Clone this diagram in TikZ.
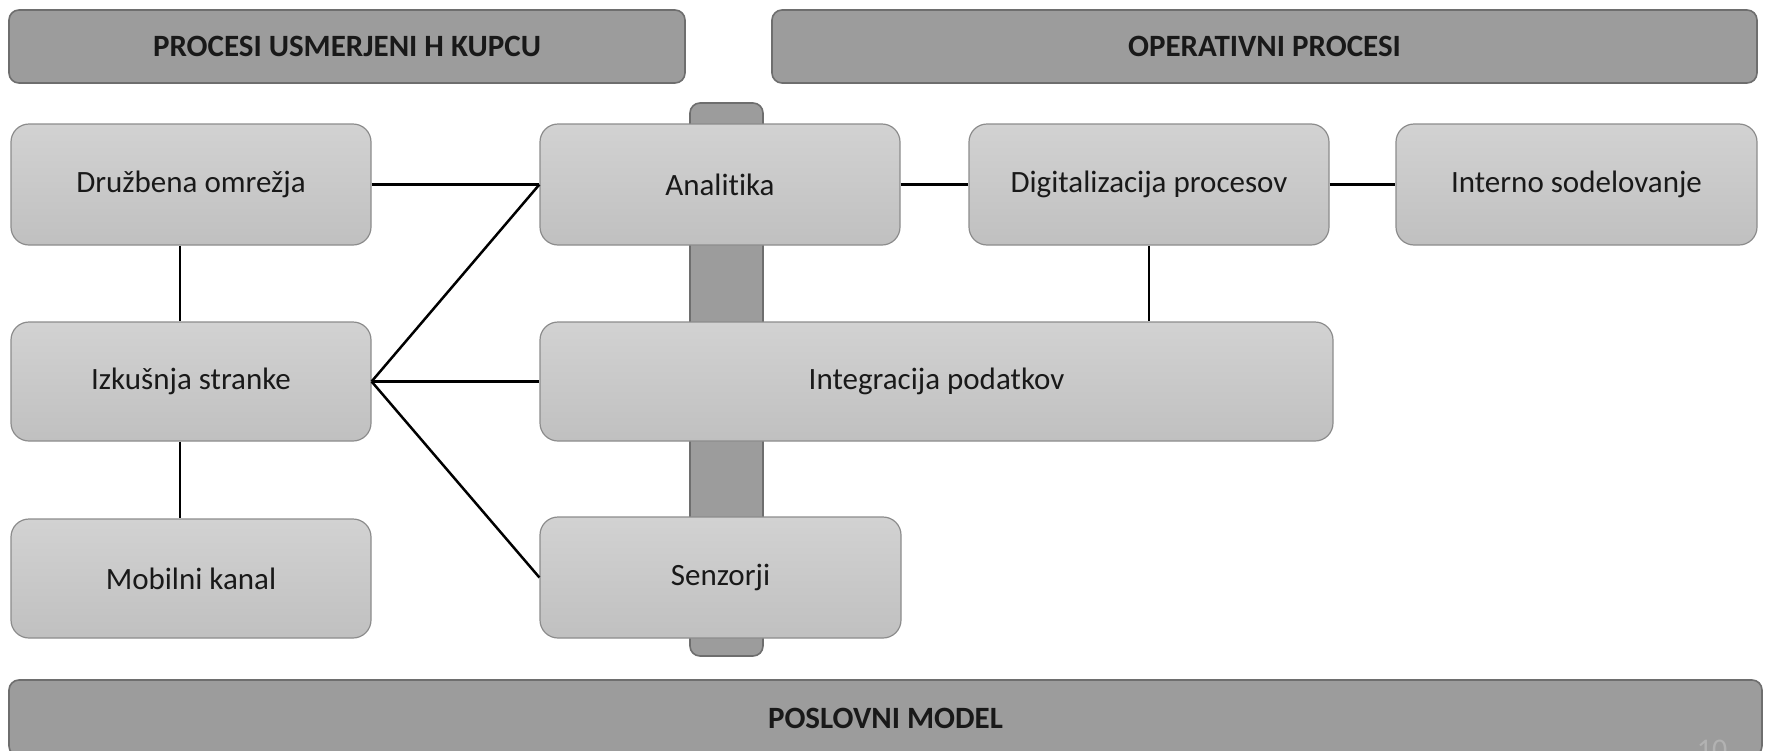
\documentclass[tikz,border=0pt]{standalone}
\usepackage{fontspec}
\setmainfont{Carlito}[Ligatures=NoCommon]
\definecolor{boxtop}{RGB}{210,210,210}
\definecolor{boxbot}{RGB}{192,192,192}
\definecolor{boxline}{RGB}{140,140,140}
\definecolor{barfill}{RGB}{156,156,156}
\definecolor{barline}{RGB}{110,110,110}
\definecolor{txt}{RGB}{25,25,25}
\definecolor{pagenum}{RGB}{178,178,178}
\tikzset{
  box/.style={draw=boxline, line width=1.2pt, rounded corners=18pt,
    top color=boxtop, bottom color=boxbot, minimum width=360pt,
    minimum height=120pt, inner sep=0pt, text=txt,
    font=\fontsize{31}{36}\selectfont},
  band/.style={draw=barline, line width=1.6pt, rounded corners=10pt,
    fill=barfill, inner sep=0pt, text=txt,
    font=\bfseries\fontsize{31}{36}\selectfont},
  link/.style={line width=2.5pt, black}
}
\begin{document}
\begin{tikzpicture}[x=1pt,y=-1pt]
\path[use as bounding box, clip] (0,0) rectangle (1765,750);

% frame bands
\node[band, minimum width=676pt, minimum height=73pt] (hleft) at (347,46.5) {PROCESI USMERJENI H KUPCU};
\node[band, minimum width=985pt, minimum height=73pt] (hright) at (1264.5,46.5) {OPERATIVNI PROCESI};
\node[band, minimum width=1753pt, minimum height=76pt] (hbottom) at (885.5,718) {POSLOVNI MODEL};
\node[band, minimum width=73pt, minimum height=553pt] (vbar) at (726.5,379.5) {};

% page number
\node[anchor=base, text=pagenum, font=\fontsize{30}{36}\selectfont, inner sep=0pt] (pg) at (1712,759) {10};

% process boxes
\node[box, minimum height=121pt] (dru) at (191,184.5) {Družbena omrežja};
\node[box, minimum height=119pt] (izk) at (191,381.5) {Izkušnja stranke};
\node[box, minimum height=119pt] (mob) at (191,578.5) {Mobilni kanal};
\node[box, minimum height=121pt] (ana) at (720,184.5) {Analitika};
\node[box, minimum height=121pt] (dig) at (1149,184.5) {Digitalizacija procesov};
\node[box, minimum height=121pt, minimum width=361pt] (int) at (1576.5,184.5) {Interno sodelovanje};
\node[box, minimum height=119pt, minimum width=793pt] (integ) at (936.5,381.5) {Integracija podatkov};
\node[box, minimum height=121pt, minimum width=361pt] (sen) at (720.5,577.5) {Senzorji};

% connectors
\draw[link] (dru.east) -- (ana.west);
\draw[link] (izk.east) -- (ana.west);
\draw[link] (izk.east) -- (integ.west);
\draw[link] (izk.east) -- (sen.west);
\draw[link] ([xshift=-11pt]dru.south) -- ([xshift=-11pt]izk.north);
\draw[link] ([xshift=-11pt]izk.south) -- ([xshift=-11pt]mob.north);
\draw[link] (ana.east) -- (dig.west);
\draw[link] (dig.east) -- (int.west);
\draw[link] (dig.south) -- (dig.south |- integ.north);
\end{tikzpicture}
\end{document}
